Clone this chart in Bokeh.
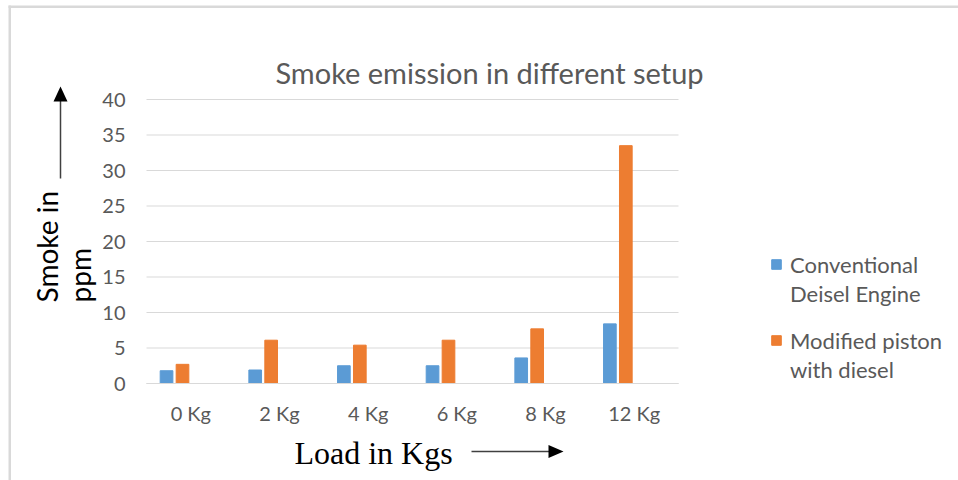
import math
from bokeh.plotting import figure
from bokeh.models import (Range1d, FixedTicker, Label, PolyAnnotation,
                          Legend, LegendItem, ColumnDataSource)
from bokeh.transform import dodge
from bokeh.embed import file_html
from bokeh.resources import INLINE

categories = ["0 Kg", "2 Kg", "4 Kg", "6 Kg", "8 Kg", "12 Kg"]
conventional = [1.8, 1.9, 2.5, 2.5, 3.6, 8.4]
modified = [2.7, 6.1, 5.4, 6.1, 7.7, 33.5]
y_ticks = [0, 5, 10, 15, 20, 25, 30, 35, 40]
series_lines = [["Conventional", "Deisel Engine"], ["Modified piston", "with diesel"]]

BLUE = "#5B9BD5"
ORANGE = "#ED7D31"
GREY = "#595959"
GRID = "#D9D9D9"
FONT = "Lato"

W, H = 958, 480
# plot area in canvas pixels
PL, PR, PT, PB = 146, 678, 99, 383
n = len(categories)
ymax = y_ticks[-1]
xpx = (PR - PL) / n
ypx = (PB - PT) / ymax

centers = [i + 0.5 for i in range(n)]
src = ColumnDataSource(dict(xc=centers, conv=conventional, mod=modified))

p = figure(x_range=Range1d(-PL / xpx, n + (W - PR) / xpx),
           y_range=Range1d(-(H - PB) / ypx, ymax + PT / ypx),
           width=W, height=H, output_backend="svg", toolbar_location=None, min_border=0)
p.outline_line_color = None
p.background_fill_color = "white"
p.border_fill_color = "white"
p.xgrid.grid_line_color = None
p.ygrid.grid_line_color = None

# gridlines of the plot area
p.segment(x0=[0] * len(y_ticks), x1=[n] * len(y_ticks), y0=y_ticks, y1=y_ticks,
          line_color=GRID, line_width=1)

r1 = p.vbar(x=dodge("xc", -0.274), top="conv", width=0.143, source=src,
            fill_color=BLUE, line_color=BLUE)
r2 = p.vbar(x=dodge("xc", -0.094), top="mod", width=0.143, source=src,
            fill_color=ORANGE, line_color=ORANGE)
# invisible renderer used for the second line of each legend entry
blank = p.vbar(x=[], top=[], width=0.1, fill_alpha=0, line_alpha=0)

# axes (fixed inside the canvas)
p.yaxis.fixed_location = 0
p.yaxis.bounds = (0, ymax)
p.yaxis.ticker = FixedTicker(ticks=y_ticks)
p.yaxis.axis_line_color = None
p.yaxis.major_tick_line_color = None
p.yaxis.minor_tick_line_color = None
p.yaxis.major_label_standoff = 15
p.yaxis.major_label_text_font = FONT
p.yaxis.major_label_text_font_size = "20px"
p.yaxis.major_label_text_color = GREY

p.xaxis.fixed_location = 0
p.xaxis.bounds = (0, n)
p.xaxis.ticker = FixedTicker(ticks=centers)
p.xaxis.major_label_overrides = {c: lab for c, lab in zip(centers, categories)}
p.xaxis.axis_line_color = GRID
p.xaxis.major_tick_line_color = None
p.xaxis.minor_tick_line_color = None
p.xaxis.major_label_standoff = 11
p.xaxis.major_label_text_font = FONT
p.xaxis.major_label_text_font_size = "20px"
p.xaxis.major_label_text_color = GREY


def label(x, y, text, **kw):
    p.add_layout(Label(x=x, y=H - y, x_units="screen", y_units="screen", text=text,
                       text_baseline="alphabetic", **kw))


label(489, 72, "Smoke emission in different setup", text_align="center",
      text_font=FONT, text_font_size="29px", text_color=GREY)
label(46, 302, "Smoke in", angle=math.pi / 2, text_align="left",
      text_font=FONT, text_font_size="28px", text_color="black")
label(79, 302, "ppm", angle=math.pi / 2, text_align="left",
      text_font=FONT, text_font_size="28px", text_color="black")
label(373, 452, "Load in Kgs", text_align="center",
      text_font="Liberation Serif", text_font_size="32px", text_color="black")


def poly(xs, ys, color):
    p.add_layout(PolyAnnotation(xs=xs, ys=[H - v for v in ys], xs_units="screen",
                                ys_units="screen", fill_color=color, fill_alpha=1,
                                line_color=None))


# y arrow
poly([59.25, 60.75, 60.75, 59.25], [178, 178, 100, 100], "#404040")
poly([53, 67, 60], [101, 101, 86], "black")
# x arrow
poly([471, 549, 549, 471], [450.25, 450.25, 451.75, 451.75], "#404040")
poly([548, 548, 563], [444.5, 457.5, 451], "black")
# chart-area frame lines
poly([8, 10.5, 10.5, 8], [480, 480, 5, 5], GRID)
poly([8, 958, 958, 8], [5, 5, 7.5, 7.5], GRID)


def add_legend(renderer, lines, bottom):
    lg = Legend(items=[LegendItem(label=lines[0], renderers=[renderer]),
                       LegendItem(label=lines[1], renderers=[blank])],
                location=(770, H - bottom), orientation="vertical",
                padding=0, margin=0, spacing=2, border_line_color=None,
                background_fill_alpha=0, glyph_width=12, glyph_height=12,
                label_height=27, label_standoff=8, label_text_font=FONT,
                label_text_font_size="22px", label_text_color=GREY)
    p.add_layout(lg)


add_legend(r1, series_lines[0], 306.5)
add_legend(r2, series_lines[1], 382.5)

open("out.html", "w").write(file_html(p, INLINE))
